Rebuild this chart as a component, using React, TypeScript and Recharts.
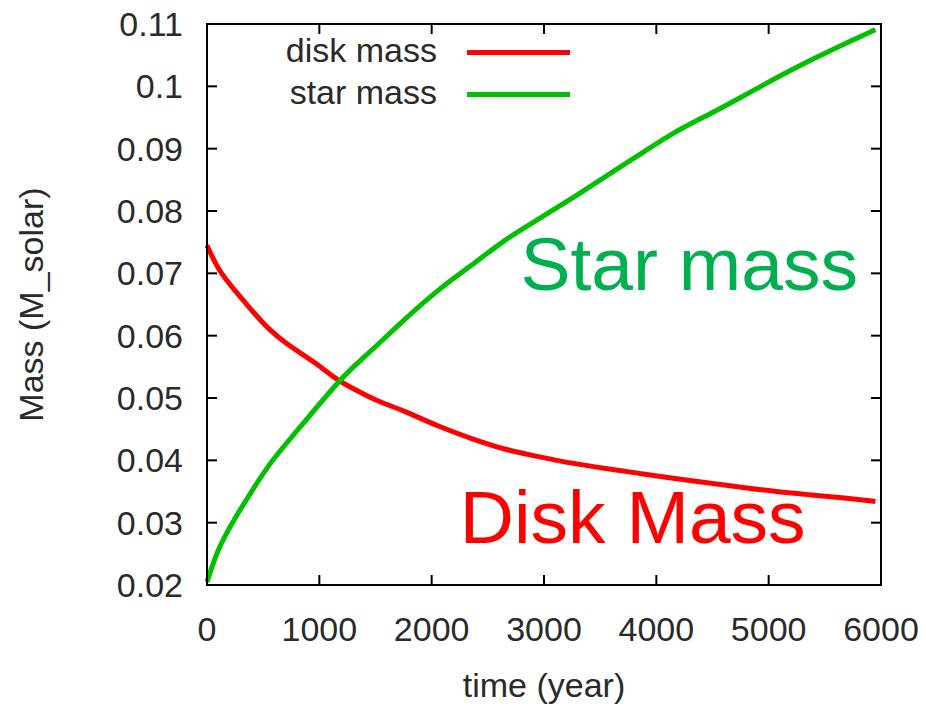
import {
  Legend,
  Line,
  LineChart,
  ReferenceArea,
  ReferenceDot,
  XAxis,
  YAxis,
  Label,
} from 'recharts';

// time axis (years) and the two mass curves
const times = [
  0, 100, 250, 400, 550, 700, 850, 1000, 1150, 1300, 1500, 1750, 2050, 2350, 2650,
  2950, 3250, 3550, 3850, 4150, 4450, 4750, 5050, 5350, 5650, 5950,
];
const diskMass = [
  0.0745, 0.0705, 0.0672, 0.064, 0.061, 0.0588, 0.057, 0.0552, 0.053, 0.0515, 0.0496,
  0.048, 0.0455, 0.0435, 0.0417, 0.0406, 0.0395, 0.0387, 0.0379, 0.0371, 0.0364,
  0.0357, 0.035, 0.0345, 0.034, 0.0334,
];
const starMass = [
  0.0205, 0.026, 0.0308, 0.0351, 0.0393, 0.0426, 0.0458, 0.049, 0.0522, 0.055, 0.0582,
  0.0625, 0.0673, 0.0712, 0.0754, 0.0787, 0.082, 0.0856, 0.089, 0.0926, 0.0953,
  0.0982, 0.1012, 0.104, 0.1066, 0.1091,
];

const xTicks = [0, 1000, 2000, 3000, 4000, 5000, 6000];
const yTicks = [0.02, 0.03, 0.04, 0.05, 0.06, 0.07, 0.08, 0.09, 0.1, 0.11];
const yTickLabels = ['0.02', '0.03', '0.04', '0.05', '0.06', '0.07', '0.08', '0.09', '0.1', '0.11'];

const seriesNames = ['disk mass', 'star mass'];
const seriesColors = ['#ff0000', '#00c000'];

const FONT = '"Liberation Sans", Arial, sans-serif';
const TEXT = '#2a2a2a';

const data = times.map((t, i) => ({ t, disk: diskMass[i], star: starMass[i] }));

const tickStyle = { fontSize: 34, fill: TEXT, fontFamily: FONT };
// mirrored gnuplot-style border: tick marks only, no labels
const noLabel = () => <g />;

function renderLegend() {
  return (
    <div style={{ fontFamily: FONT, fontSize: 34, color: TEXT }}>
      {seriesNames.map((name, i) => (
        <div key={name} style={{ display: 'flex', alignItems: 'center', height: 42, lineHeight: '42px' }}>
          <span style={{ width: 167, textAlign: 'right' }}>{name}</span>
          <span
            style={{ width: 103, height: 5, marginLeft: 30, marginTop: 4, background: seriesColors[i], display: 'block' }}
          />
        </div>
      ))}
    </div>
  );
}

export default function App() {
  return (
    <div style={{ position: 'absolute', left: 0, top: 0, width: 926, height: 707, background: '#fff' }}>
      <LineChart width={926} height={707} data={data} margin={{ top: 23, right: 44, bottom: 0, left: 0 }}>
        <XAxis
          dataKey="t"
          type="number"
          domain={[0, 6000]}
          ticks={xTicks}
          interval={0}
          height={122}
          tickSize={-10}
          tickMargin={42}
          tick={tickStyle}
          stroke="#000"
          strokeWidth={2}
        >
          <Label
            value="time (year)"
            position="insideBottom"
            offset={10}
            style={{ fontSize: 34, fill: TEXT, fontFamily: FONT }}
          />
        </XAxis>
        <XAxis
          xAxisId="top"
          orientation="top"
          dataKey="t"
          type="number"
          domain={[0, 6000]}
          ticks={xTicks}
          interval={0}
          height={1}
          tickSize={-10}
          tick={noLabel}
          stroke="#000"
          strokeWidth={2}
        />
        <YAxis
          type="number"
          domain={[0.02, 0.11]}
          ticks={yTicks}
          interval={0}
          width={207}
          tickSize={-10}
          tickMargin={34}
          tick={tickStyle}
          tickFormatter={(v: number) => yTickLabels[yTicks.indexOf(v)] ?? String(v)}
          stroke="#000"
          strokeWidth={2}
        >
          <Label
            content={({ viewBox }: any) => {
              const cx = viewBox.x + 31;
              const cy = viewBox.y + viewBox.height / 2;
              return (
                <text
                  x={cx}
                  y={cy}
                  transform={`rotate(-90, ${cx}, ${cy})`}
                  textAnchor="middle"
                  dominantBaseline="central"
                  style={{ fontSize: 34, fill: TEXT, fontFamily: FONT }}
                >
                  Mass (M_solar)
                </text>
              );
            }}
          />
        </YAxis>
        <YAxis
          yAxisId="right"
          orientation="right"
          type="number"
          domain={[0.02, 0.11]}
          ticks={yTicks}
          interval={0}
          width={1}
          tickSize={-10}
          tick={noLabel}
          stroke="#000"
          strokeWidth={2}
        />
        <ReferenceArea x1={0} x2={6000} y1={0.02} y2={0.11} fill="none" stroke="#000" strokeWidth={2} />
        <Legend content={renderLegend} layout="horizontal" verticalAlign="middle" align="center" wrapperStyle={{ left: 270, top: 29, width: 320 }} />
        {/* invisible copy bound to the mirrored axes so their ticks get drawn */}
        <Line
          xAxisId="top"
          yAxisId="right"
          dataKey="star"
          stroke="none"
          dot={false}
          legendType="none"
          isAnimationActive={false}
        />
        <Line
          dataKey="disk"
          name={seriesNames[0]}
          stroke={seriesColors[0]}
          strokeWidth={5}
          dot={false}
          type="basis"
          isAnimationActive={false}
        />
        <Line
          dataKey="star"
          name={seriesNames[1]}
          stroke={seriesColors[1]}
          strokeWidth={5}
          dot={false}
          type="basis"
          isAnimationActive={false}
        />
        <ReferenceDot
          x={2790}
          y={0.0674}
          r={0}
          shape={(p: any) => (
            <text x={p.cx} y={p.cy} style={{ fontSize: 75, fill: '#00b050', fontFamily: FONT }}>
              Star mass
            </text>
          )}
        />
        <ReferenceDot
          x={2250}
          y={0.0267}
          r={0}
          shape={(p: any) => (
            <text x={p.cx} y={p.cy} style={{ fontSize: 75, fill: '#ff0000', fontFamily: FONT }}>
              Disk Mass
            </text>
          )}
        />
      </LineChart>
    </div>
  );
}
